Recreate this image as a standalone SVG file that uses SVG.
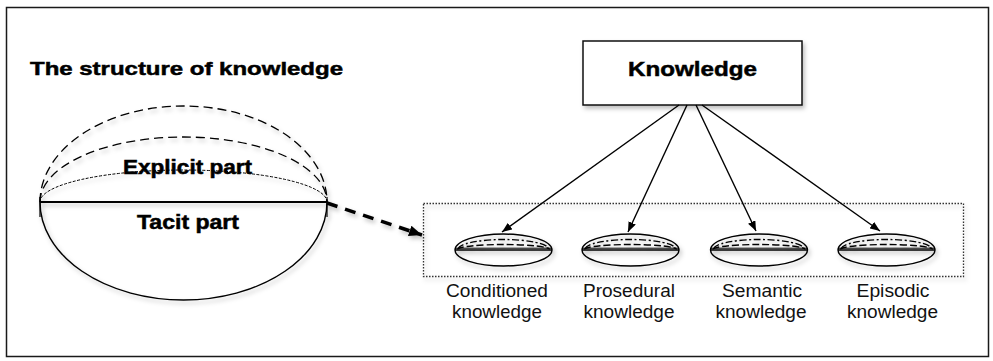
<svg xmlns="http://www.w3.org/2000/svg" width="993" height="361" viewBox="0 0 993 361">
<style>
.frame{fill:none;stroke:#1a1a1a;stroke-width:1.5}
.ln{fill:none;stroke:#000;stroke-width:1.4}
.dash{fill:none;stroke:#000;stroke-width:1.3;stroke-dasharray:9 5}
.dot{fill:none;stroke:#000;stroke-width:1;stroke-dasharray:3 1.5}
.b{font-family:"Liberation Sans",Arial,sans-serif;font-weight:bold;fill:#000;stroke:#000;stroke-width:0.5}
.r{font-family:"Liberation Sans",Arial,sans-serif;font-size:17.5px;fill:#111;text-anchor:middle}
.sdash{fill:none;stroke:#000;stroke-width:1.4;stroke-dasharray:7 2.5 2 2.5}
.sdash2{fill:none;stroke:#000;stroke-width:1.4;stroke-dasharray:7 3}
.box{fill:#fff;stroke:#111;stroke-width:1.5}
.dbox{fill:none;stroke:#333;stroke-width:1.3;stroke-dasharray:1.5 1.5}
</style>
<defs>
<filter id="sh" x="-20%" y="-20%" width="140%" height="160%">
<feDropShadow dx="2" dy="3" stdDeviation="2" flood-color="#000" flood-opacity="0.25"/>
</filter>
<marker id="ah" viewBox="0 0 10 8" refX="10" refY="4" markerWidth="10" markerHeight="8" markerUnits="userSpaceOnUse" orient="auto">
<path d="M0,0 L10,4 L0,8 z" fill="#000"/>
</marker>
<marker id="ahb" viewBox="0 0 12 10" refX="12" refY="5" markerWidth="13" markerHeight="11" markerUnits="userSpaceOnUse" orient="auto">
<path d="M0,0 L12,5 L0,10 z" fill="#000"/>
</marker>
<g id="mini">
<path d="M-48.5,0 A48.5,16 0 0 1 48.5,0" class="ln" fill="#fff"/>
<path d="M-45,-1 A45,9.5 0 0 1 45,-1" class="sdash"/>
<path d="M-46,-0.5 A46,5 0 0 1 46,-0.5" class="sdash2"/>
<line x1="-48" y1="-1.8" x2="48" y2="-1.8" stroke="#000" stroke-width="1"/>
<path d="M-48.5,0 A48.5,16 0 0 0 48.5,0" class="ln"/>
<line x1="-48.5" y1="0" x2="48.5" y2="0" stroke="#000" stroke-width="1.5"/>
</g>
</defs>
<rect class="frame" x="6.5" y="7.5" width="982" height="349"/>
<text class="b" x="30" y="75" font-size="19" textLength="313" lengthAdjust="spacingAndGlyphs">The structure of knowledge</text>
<g id="structure" filter="url(#sh)">
<path d="M40,202 A143.5,96 0 0 1 327,202" class="dash"/>
<path d="M40,202 A143.5,65 0 0 1 327,202" class="dash"/>
<path d="M40,202 A143.5,32 0 0 1 327,202" class="dot"/>
<path d="M40,202 A143.5,98 0 0 0 327,202" class="ln"/>
<line x1="40" y1="202" x2="327" y2="202" stroke="#000" stroke-width="2"/>
<line x1="40" y1="197" x2="40" y2="217" stroke="#000" stroke-width="1.2"/>
<line x1="327" y1="197" x2="327" y2="217" stroke="#000" stroke-width="1.2"/>
</g>
<text class="b" x="123" y="174" font-size="20" textLength="129" lengthAdjust="spacingAndGlyphs">Explicit part</text>
<text class="b" x="137" y="229" font-size="20" textLength="102" lengthAdjust="spacingAndGlyphs">Tacit part</text>
<g id="knowledge">
<rect class="box" x="583" y="41" width="219" height="64" filter="url(#sh)"/>
<text class="b" x="628" y="76" font-size="21" textLength="129" lengthAdjust="spacingAndGlyphs">Knowledge</text>
</g>
<g id="group-box">
<rect class="dbox" x="423.5" y="203.5" width="540" height="73" filter="url(#sh)"/>
</g>
<g id="conditioned"><use href="#mini" x="503.5" y="250" filter="url(#sh)"/>
<text class="r" x="497" y="297" textLength="102" lengthAdjust="spacingAndGlyphs">Conditioned</text>
<text class="r" x="497" y="318" textLength="90" lengthAdjust="spacingAndGlyphs">knowledge</text></g>
<g id="prosedural"><use href="#mini" x="630.5" y="250" filter="url(#sh)"/>
<text class="r" x="629" y="297" textLength="92" lengthAdjust="spacingAndGlyphs">Prosedural</text>
<text class="r" x="629" y="318" textLength="91" lengthAdjust="spacingAndGlyphs">knowledge</text></g>
<g id="semantic"><use href="#mini" x="759" y="250" filter="url(#sh)"/>
<text class="r" x="762" y="297" textLength="80" lengthAdjust="spacingAndGlyphs">Semantic</text>
<text class="r" x="761" y="318" textLength="91" lengthAdjust="spacingAndGlyphs">knowledge</text></g>
<g id="episodic"><use href="#mini" x="886.5" y="250" filter="url(#sh)"/>
<text class="r" x="893" y="297" textLength="73" lengthAdjust="spacingAndGlyphs">Episodic</text>
<text class="r" x="892.5" y="318" textLength="91" lengthAdjust="spacingAndGlyphs">knowledge</text></g>
<g id="connectors">
<line x1="679" y1="105" x2="502" y2="232" class="ln" marker-end="url(#ah)"/>
<line x1="687" y1="105" x2="628" y2="232" class="ln" marker-end="url(#ah)"/>
<line x1="696" y1="105" x2="756" y2="231" class="ln" marker-end="url(#ah)"/>
<line x1="702" y1="105" x2="880" y2="231" class="ln" marker-end="url(#ah)"/>
<line x1="327" y1="203" x2="422" y2="235" fill="none" stroke="#000" stroke-width="3.5" stroke-dasharray="11 8" marker-end="url(#ahb)" filter="url(#sh)"/>
</g>
</svg>
